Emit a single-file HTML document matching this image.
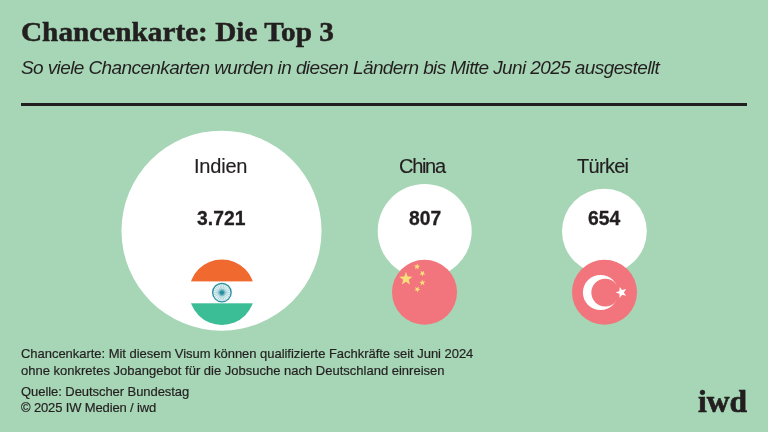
<!DOCTYPE html>
<html><head><meta charset="utf-8">
<style>
html,body{margin:0;padding:0;}
body{-webkit-font-smoothing:antialiased;width:768px;height:432px;overflow:hidden;background:#a6d6b5;position:relative;font-family:"Liberation Sans",sans-serif;color:#231f20;}
.a{position:absolute;white-space:nowrap;line-height:1;will-change:transform;}
#title{left:21px;top:17.9px;font-family:"Liberation Serif",serif;font-weight:bold;font-size:27.6px;transform:scaleX(1.06);transform-origin:0 0;-webkit-text-stroke:0.5px #231f20;}
#sub{left:21px;top:58.1px;font-style:italic;font-size:19px;letter-spacing:-0.6px;color:#231f20;}
#rule{position:absolute;left:21px;top:102.5px;width:726px;height:3px;background:#231f20;}
.lab{font-size:20px;color:#231f20;-webkit-text-stroke:0.15px #231f20;}
.num{font-weight:bold;font-size:19.3px;letter-spacing:0.05px;-webkit-text-stroke:0.3px #231f20;}
.foot{left:21px;font-size:13px;color:#231f20;-webkit-text-stroke:0.2px #231f20;}
#logo{left:697.8px;top:385.8px;font-family:"Liberation Serif",serif;font-weight:bold;font-size:31.5px;-webkit-text-stroke:0.7px #231f20;}
svg{position:absolute;left:0;top:0;}
</style></head>
<body>
<svg width="768" height="432" viewBox="0 0 768 432">
  <circle cx="221.5" cy="230.7" r="100" fill="#fff"/>
  <circle cx="424.7" cy="231" r="47" fill="#fff"/>
  <circle cx="604.4" cy="231.2" r="42.4" fill="#fff"/>
  <!-- India flag -->
  <defs>
    <clipPath id="cin"><circle cx="221.9" cy="292.2" r="32.8"/></clipPath>
  </defs>
  <g clip-path="url(#cin)">
    <rect x="185" y="255" width="75" height="26.4" fill="#f0692e"/>
    <rect x="185" y="303.3" width="75" height="26.5" fill="#3bbd96"/>
  </g>
  <circle cx="221.9" cy="292.6" r="8.9" fill="#eef7f8"/>
  <path d="M221.9 292.6L230.50 292.60 M221.9 292.6L230.21 294.83 M221.9 292.6L229.35 296.90 M221.9 292.6L227.98 298.68 M221.9 292.6L226.20 300.05 M221.9 292.6L224.13 300.91 M221.9 292.6L221.90 301.20 M221.9 292.6L219.67 300.91 M221.9 292.6L217.60 300.05 M221.9 292.6L215.82 298.68 M221.9 292.6L214.45 296.90 M221.9 292.6L213.59 294.83 M221.9 292.6L213.30 292.60 M221.9 292.6L213.59 290.37 M221.9 292.6L214.45 288.30 M221.9 292.6L215.82 286.52 M221.9 292.6L217.60 285.15 M221.9 292.6L219.67 284.29 M221.9 292.6L221.90 284.00 M221.9 292.6L224.13 284.29 M221.9 292.6L226.20 285.15 M221.9 292.6L227.98 286.52 M221.9 292.6L229.35 288.30 M221.9 292.6L230.21 290.37" stroke="#6ab3be" stroke-width="0.5"/>
  <circle cx="221.9" cy="292.6" r="9.25" fill="none" stroke="#2990a0" stroke-width="1.35"/>
  <circle cx="221.9" cy="292.6" r="2.2" fill="#2990a0"/><circle cx="221.9" cy="292.6" r="3.6" fill="#2990a0" opacity="0.35"/>
  <!-- China flag -->
  <circle cx="424.5" cy="292.2" r="32.5" fill="#f2747c"/>
  <polygon points="405.95,271.90 407.65,276.46 412.51,276.67 408.71,279.70 410.01,284.38 405.95,281.70 401.89,284.38 403.19,279.70 399.39,276.67 404.25,276.46" fill="#f7e07a"/>
  <polygon points="414.85,268.97 415.68,266.88 414.08,265.29 416.33,265.43 417.34,263.42 417.90,265.60 420.13,265.94 418.23,267.15 418.59,269.38 416.86,267.94" fill="#f7e07a"/>
  <polygon points="419.36,274.40 421.12,272.99 420.51,270.82 422.40,272.06 424.27,270.81 423.68,272.98 425.45,274.38 423.19,274.48 422.41,276.60 421.61,274.49" fill="#f7e07a"/>
  <polygon points="419.29,281.96 421.52,281.68 422.14,279.51 423.10,281.55 425.35,281.47 423.71,283.01 424.49,285.13 422.51,284.04 420.74,285.43 421.16,283.22" fill="#f7e07a"/>
  <polygon points="414.95,287.13 417.04,287.98 418.64,286.39 418.47,288.64 420.48,289.68 418.29,290.21 417.92,292.44 416.74,290.52 414.51,290.86 415.97,289.14" fill="#f7e07a"/>
  <!-- Turkey flag -->
  <circle cx="604.5" cy="292.2" r="32.5" fill="#f2747c"/>
  <circle cx="600.5" cy="292.5" r="17.6" fill="#fff"/>
  <circle cx="605.2" cy="292.6" r="13.85" fill="#f2747c"/>
  <polygon points="615.60,292.40 619.43,290.97 619.61,286.88 622.15,290.08 626.09,288.99 623.84,292.40 626.09,295.81 622.15,294.72 619.61,297.92 619.43,293.83" fill="#fff"/>
</svg>
<div class="a" id="title">Chancenkarte: Die Top 3</div>
<div class="a" id="sub">So viele Chancenkarten wurden in diesen Ländern bis Mitte Juni 2025 ausgestellt</div>
<div id="rule"></div>

<div class="a lab" style="left:193.6px;top:155.7px;letter-spacing:-0.2px;">Indien</div>
<div class="a num" style="left:197.2px;top:208.8px;">3.721</div>
<div class="a lab" style="left:398.6px;top:155.7px;letter-spacing:-1.3px;">China</div>
<div class="a num" style="left:408.6px;top:208.8px;">807</div>
<div class="a lab" style="left:577.2px;top:155.7px;letter-spacing:-0.7px;">Türkei</div>
<div class="a num" style="left:588.2px;top:208.8px;">654</div>

<div class="a foot" style="top:346.8px;letter-spacing:-0.035px;">Chancenkarte: Mit diesem Visum können qualifizierte Fachkräfte seit Juni 2024</div>
<div class="a foot" style="top:363.6px;">ohne konkretes Jobangebot für die Jobsuche nach Deutschland einreisen</div>
<div class="a foot" style="top:384.5px;letter-spacing:-0.06px;">Quelle: Deutscher Bundestag</div>
<div class="a foot" style="top:400.6px;letter-spacing:-0.14px;">© 2025 IW Medien / iwd</div>

<div class="a" id="logo">iwd</div>
</body></html>
